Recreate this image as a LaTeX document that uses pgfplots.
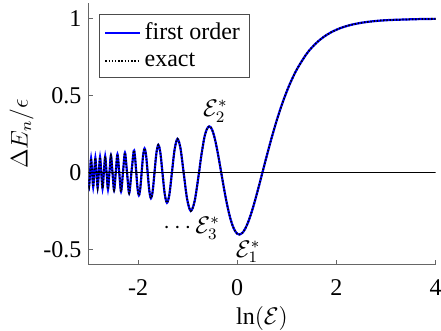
\documentclass[border=0pt]{standalone}
\usepackage{fontspec}
\setmainfont{Liberation Serif}
\usepackage{pgfplots}
\usepackage{pgfplotstable}
\pgfplotsset{compat=1.18}

% Delta E_n / epsilon against ln(E)
\pgfplotstableread{
x y
-3.0000 -0.0460
-2.9872 -0.0896
-2.9672 0
-2.9468 0.0914
-2.9260 0
-2.9047 -0.0934
-2.8830 0
-2.8607 0.0954
-2.8380 0
-2.8148 -0.0977
-2.7909 0
-2.7665 0.1000
-2.7415 0
-2.7159 -0.1026
-2.6896 0
-2.6626 0.1054
-2.6348 0
-2.6062 -0.1084
-2.5768 0
-2.5465 0.1117
-2.5152 0
-2.4830 -0.1153
-2.4496 0
-2.4152 0.1192
-2.3794 0
-2.3424 -0.1237
-2.3039 0
-2.2639 0.1286
-2.2222 0
-2.1788 -0.1342
-2.1333 0
-2.0857 0.1406
-2.0610 0.1007
-2.0357 0
-2.0097 -0.1033
-1.9830 -0.1480
-1.9556 -0.1061
-1.9274 0
-1.8985 0.1092
-1.8686 0.1567
-1.8378 0.1126
-1.8061 0
-1.7733 -0.1162
-1.7394 -0.1672
-1.7043 -0.1203
-1.6679 0
-1.6302 0.1249
-1.5910 0.1801
-1.5502 0.1299
-1.5076 0
-1.4631 -0.1357
-1.4166 -0.1965
-1.3678 -0.1423
-1.3165 0
-1.2625 0.1500
-1.2053 0.2184
-1.1447 0.1592
-1.0802 0
-1.0112 -0.1701
-0.9370 -0.2497
-0.8570 -0.1838
-0.7700 0
-0.7419 0.0693
-0.7178 0.1222
-0.6931 0.1717
-0.6678 0.2198
-0.6418 0.2540
-0.6152 0.2794
-0.5878 0.2951
-0.5619 0.3001
-0.5306 0.2931
-0.5008 0.2740
-0.4700 0.2433
-0.4382 0.2018
-0.4055 0.1507
-0.3716 0.0917
-0.3365 0.0270
-0.3221 0
-0.3001 -0.0412
-0.2624 -0.1103
-0.2231 -0.1776
-0.1823 -0.2404
-0.1398 -0.2961
-0.0953 -0.3423
-0.0488 -0.3766
0.0000 -0.3971
0.0429 -0.4028
0.1054 -0.3918
0.1625 -0.3643
0.2231 -0.3202
0.2877 -0.2601
0.3567 -0.1850
0.4308 -0.0968
0.5088 0
0.5978 0.1104
0.6931 0.2239
0.7985 0.3400
0.9163 0.4554
1.0498 0.5669
1.2040 0.6711
1.3863 0.7652
1.4917 0.8075
1.6094 0.8463
1.7430 0.8812
1.8971 0.9120
2.0794 0.9385
2.3026 0.9604
2.5903 0.9776
2.9957 0.9900
3.6889 0.9975
4.0000 0.9987
}\curvetab

\begin{document}
\begin{tikzpicture}
\begin{axis}[
    scale only axis,
    width=173.4pt, height=130.7pt,
    xmin=-3, xmax=4, ymin=-0.6, ymax=1.1,
    axis lines*=left,
    axis line style={black!60, line width=0.4pt},
    xtick={-2,0,2,4},
    ytick={-0.5,0,0.5,1},
    tick style={black!60, line width=0.4pt},
    major tick length=2.5pt,
    tick align=inside,
    tick label style={font=\fontsize{12}{14}\selectfont},
    xticklabel style={yshift=-4pt},
    /pgf/number format/assume math mode=true,
    xlabel={$\ln(\mathcal{E})$},
    ylabel={$\Delta E_n/\epsilon$},
    label style={font=\fontsize{12}{14}\selectfont},
    xlabel style={yshift=1.5pt},
    ylabel style={yshift=-2pt},
    legend style={
        at={(axis description cs:0.0303,0.958)},
        anchor=north west,
        draw=black!70, line width=0.4pt, fill=white,
        font=\fontsize{12}{13}\selectfont,
        inner xsep=2.5pt, inner ysep=2pt,
        row sep=1pt,
        cells={anchor=west}
    },
    legend image code/.code={\draw[#1] (0pt,0pt) -- (17pt,0pt);},
]
  \addplot[blue, line width=1.1pt, smooth] table[x=x, y=y] {\curvetab};
  \addlegendentry{first order}
  \addplot[black, line width=0.9pt, dash pattern=on 0.7pt off 0.9pt, smooth]
    table[x=x, y=y] {\curvetab};
  \addlegendentry{exact}
  \addplot[black, line width=0.4pt, forget plot] coordinates {(-3,0) (4,0)};

  \node[font=\fontsize{12}{14}\selectfont] at (axis cs:-0.44,0.40) {$\mathcal{E}_2^*$};
  \node[font=\fontsize{12}{14}\selectfont] at (axis cs:-0.92,-0.36) {$\cdots\mathcal{E}_3^*$};
  \node[font=\fontsize{12}{14}\selectfont] at (axis cs:0.22,-0.515) {$\mathcal{E}_1^*$};

  \coordinate (SW) at (rel axis cs:0,0);
  \coordinate (NE) at (rel axis cs:1,1);
\end{axis}
\pgfresetboundingbox
\path[use as bounding box] ([shift={(-44.2pt,-32.6pt)}]SW) rectangle ([shift={(2.75pt,1.65pt)}]NE);
\end{tikzpicture}
\end{document}
